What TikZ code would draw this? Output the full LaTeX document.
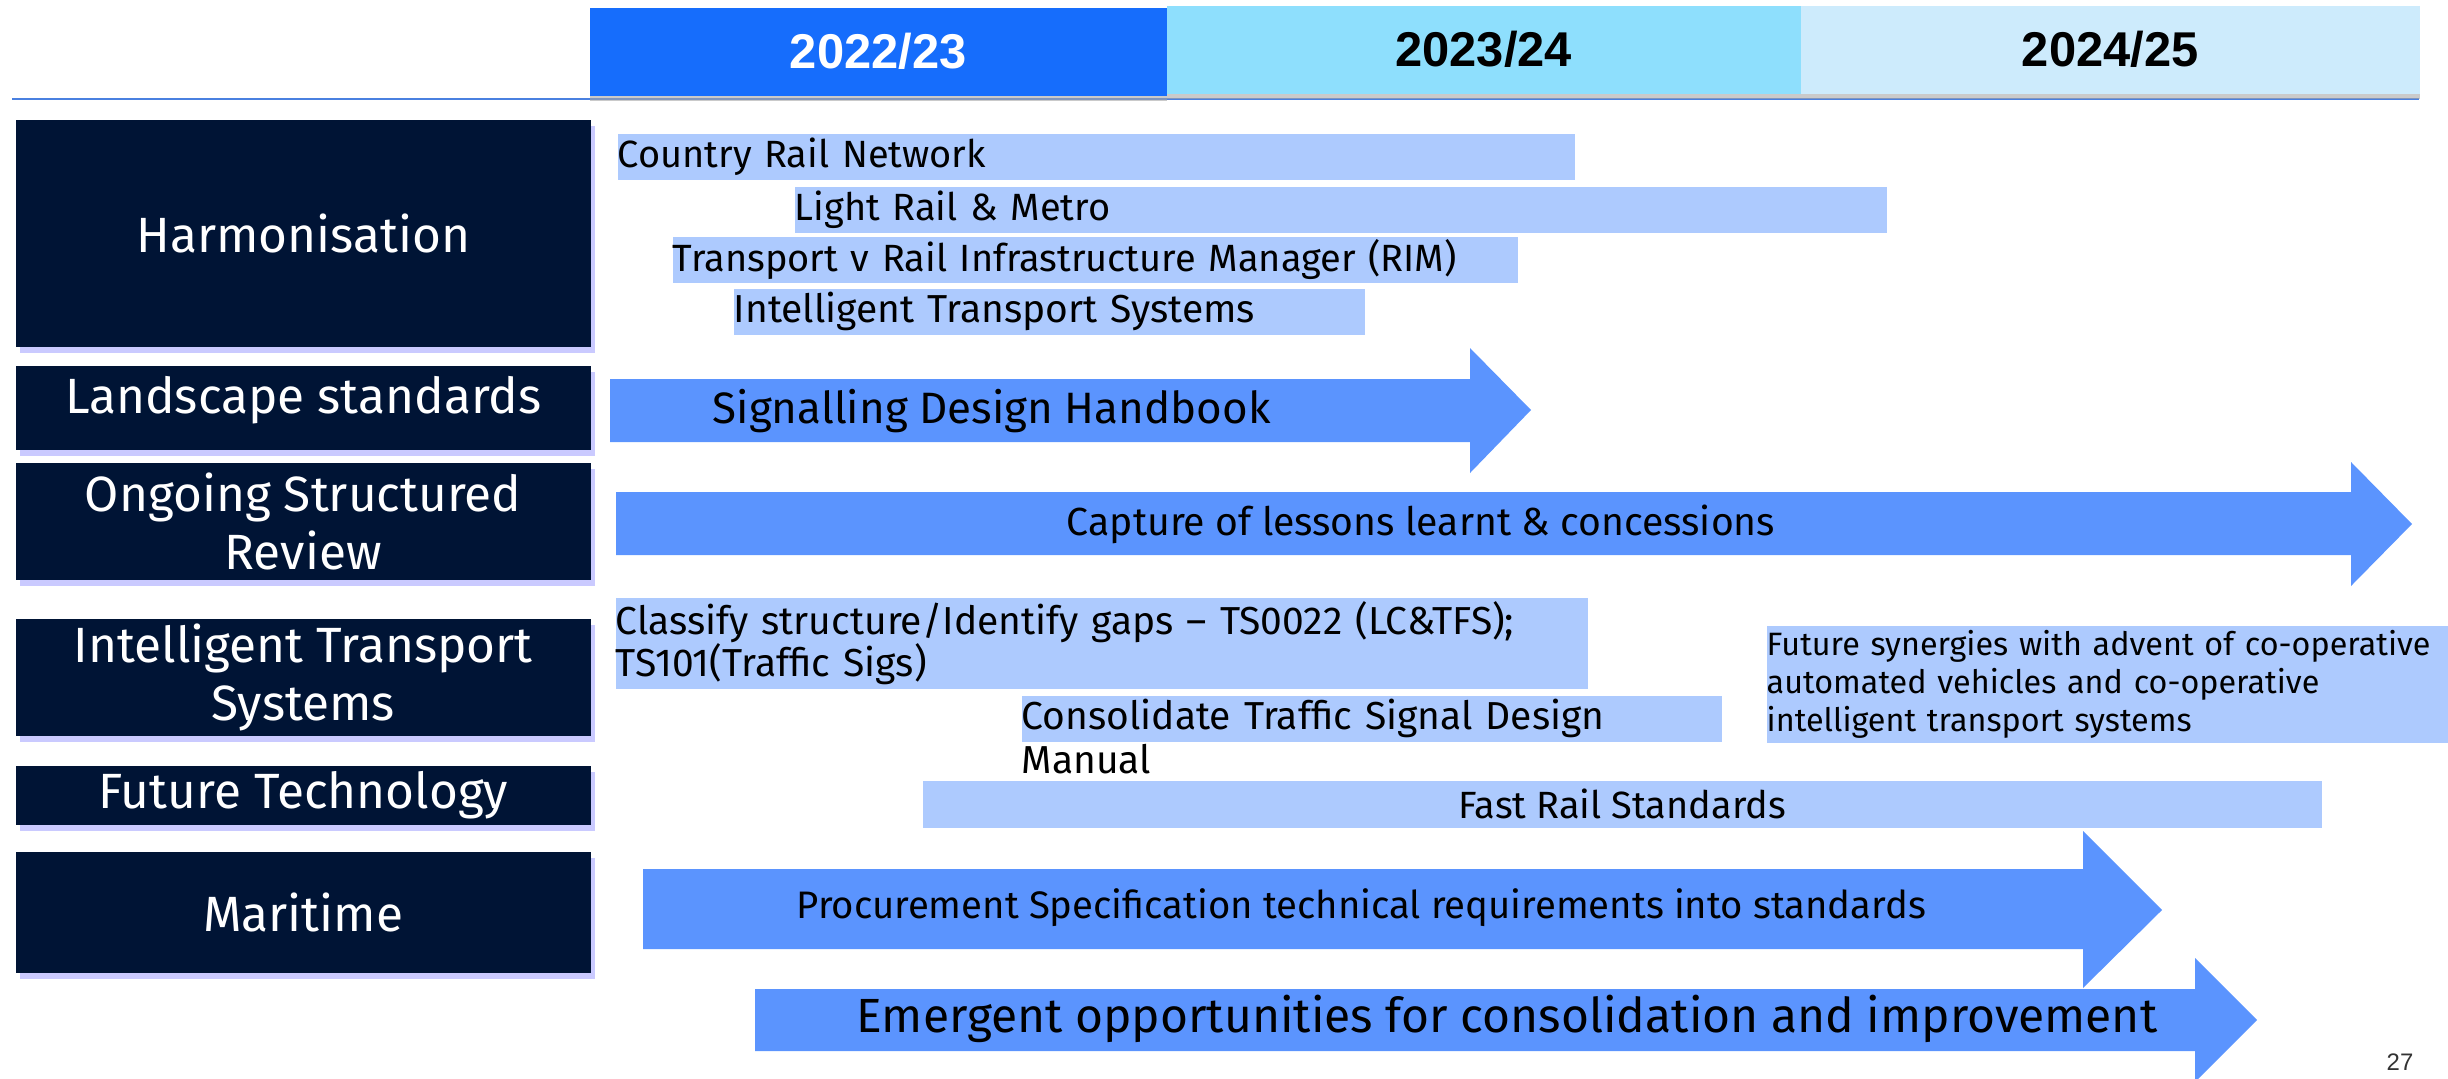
\documentclass[tikz,border=0pt]{standalone}
\usepackage{fontspec}
\setmainfont{Fira Sans}
\newfontfamily\yearfont{Liberation Sans}
\usetikzlibrary{shadows}

\definecolor{navybox}{RGB}{0,20,53}
\definecolor{yearA}{RGB}{22,109,252}
\definecolor{yearB}{RGB}{142,223,253}
\definecolor{yearC}{RGB}{205,235,252}
\definecolor{planblue}{RGB}{173,202,254}
\definecolor{arrowblue}{RGB}{91,148,254}
\definecolor{ruleblue}{RGB}{74,128,224}

\tikzset{
  catbox/.style={fill=navybox, text=white, inner sep=0pt, align=center, anchor=north west,
    minimum width=57.5mm, font=\fontsize{14.1}{16.5}\selectfont,
    drop shadow={shadow xshift=0.4mm, shadow yshift=-0.6mm, fill=blue!35!white, opacity=0.6}},
  yearbox/.style={inner sep=0pt, anchor=north west, minimum height=8.8mm,
    font=\yearfont\bfseries\fontsize{13.9}{16}\selectfont,
    drop shadow={shadow xshift=0mm, shadow yshift=-0.5mm, fill=black!35, opacity=0.6}},
  planbar/.style={fill=planblue, inner sep=0pt, anchor=north west, align=left,
    minimum height=4.6mm, font=\fontsize{10.8}{12}\selectfont},
  arrowtext/.style={inner sep=0pt, anchor=base west},
}

\begin{document}
\begin{tikzpicture}[x=0.1mm, y=-0.1mm]
\useasboundingbox (0,0) rectangle (2448,1078);

% Year header
\draw[ruleblue, line width=0.25mm] (12,99) -- (2419,99);
\node[yearbox, fill=yearA, text=white, minimum width=57.7mm] (yr1) at (589,7) {2022/23};
\node[yearbox, fill=yearB, minimum width=63.4mm] (yr2) at (1166,5) {2023/24};
\node[yearbox, fill=yearC, minimum width=61.9mm] (yr3) at (1800,5) {2024/25};

% Category boxes
\node[catbox, minimum height=22.7mm] (harm) at (15,119) {Harmonisation};
\node[catbox, minimum height=8.4mm, text depth=2.6mm] (land) at (15,365) {Landscape standards};
\node[catbox, minimum height=11.7mm] (osr) at (15,462) {Ongoing Structured\\Review};
\node[catbox, minimum height=11.7mm] (its) at (15,618) {Intelligent Transport\\Systems};
\node[catbox, minimum height=5.9mm] (fut) at (15,765) {Future Technology};
\node[catbox, minimum height=12.1mm] (mar) at (15,851) {Maritime};

% Harmonisation bars
\node[planbar, minimum width=95.7mm, text width=95.7mm] (crn) at (617,133) {Country Rail Network};
\node[planbar, minimum width=109.2mm, text width=109.2mm] (lrm) at (794,186) {Light Rail \& Metro};
\node[planbar, minimum width=84.5mm, text width=84.5mm] (rim) at (672,236) {Transport v Rail Infrastructure Manager (RIM)};
\node[planbar, minimum width=63.1mm, text width=63.1mm, font=\fontsize{11.1}{12}\selectfont] (itsb) at (733,288) {Intelligent Transport Systems};

% Signalling arrow
\fill[arrowblue] (610,379) -- (1470,379) -- (1470,348) -- (1531,410) -- (1470,473) -- (1470,442) -- (610,442) -- cycle;
\node[arrowtext, font=\fontsize{12.5}{14}\selectfont] (sdh) at (712,423) {Signalling Design Handbook};

% Review arrow
\fill[arrowblue] (616,492) -- (2351,492) -- (2351,462) -- (2412,524) -- (2351,586) -- (2351,555) -- (616,555) -- cycle;
\node[arrowtext, anchor=base, font=\fontsize{11.15}{13}\selectfont] (cap) at (1421,535) {Capture of lessons learnt \& concessions};

% ITS bars
\node[planbar, minimum width=97.2mm, minimum height=9.1mm, text width=97.2mm, font=\fontsize{11.1}{12}\selectfont] (cls) at (615,597)
  {Classify structure/Identify gaps – TS0022 (LC\&TFS);\\TS101(Traffic Sigs)};
\node[planbar, minimum width=70mm, text width=70mm, font=\fontsize{11.1}{12}\selectfont] (ctsd) at (1021,695) {Consolidate Traffic Signal Design};
\node[arrowtext, font=\fontsize{11.1}{12}\selectfont] (man) at (1021,773) {Manual};
\node[planbar, minimum width=68.2mm, minimum height=11.7mm, text width=68.2mm,
  font=\fontsize{9.2}{10.8}\selectfont] (syn) at (1766,625)
  {Future synergies with advent of co-operative\\automated vehicles and co-operative\\intelligent transport systems};

% Future technology
\node[planbar, minimum width=139.9mm, minimum height=4.7mm, align=center] (fast) at (922,780) {Fast Rail Standards};

% Maritime arrows
\fill[arrowblue] (643,869) -- (2083,869) -- (2083,831) -- (2162,910) -- (2083,988) -- (2083,949) -- (643,949) -- cycle;
\node[arrowtext, font=\fontsize{10.9}{12}\selectfont] (proc) at (796,918) {Procurement Specification technical requirements into standards};
\fill[arrowblue] (755,989) -- (2195,989) -- (2195,958) -- (2257,1020) -- (2195,1082) -- (2195,1051) -- (755,1051) -- cycle;
\node[arrowtext, font=\fontsize{13.65}{15}\selectfont] (emo) at (856,1032) {Emergent opportunities for consolidation and improvement};

% Page number
\node[inner sep=0pt, anchor=base east, font=\yearfont\fontsize{6.8}{8}\selectfont, text=black!80] (pg) at (2414,1070) {27};

\end{tikzpicture}
\end{document}
